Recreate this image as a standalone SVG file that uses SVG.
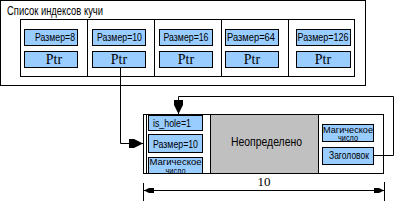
<svg xmlns="http://www.w3.org/2000/svg" width="395" height="201" viewBox="0 0 395 201">
<style>
.b{fill:#99ccff;stroke:#000;stroke-width:1}
.w{fill:#fff;stroke:#000;stroke-width:1}
.g{fill:#c0c0c0;stroke:#000;stroke-width:1}
.l{fill:none;stroke:#000;stroke-width:1}
.s{font-family:"Liberation Sans",Arial,sans-serif;fill:#000}
.t{font-family:"Liberation Serif","Times New Roman",serif;fill:#000}
</style>
<defs>
<marker id="arr" viewBox="-14 -5 14 10" refX="0" refY="0" markerWidth="14" markerHeight="10" markerUnits="userSpaceOnUse" orient="auto">
<path d="M0,0 L-9,-4.5 L-14,-4.5 L-14,4.5 L-9,4.5 Z" fill="#000"/>
</marker>
<marker id="dim" viewBox="-10 -3 10 6" refX="0" refY="0" markerWidth="10" markerHeight="6" markerUnits="userSpaceOnUse" orient="auto-start-reverse">
<path d="M0,0 L-5,-2.5 L-10,-2.5 L-10,2.5 L-5,2.5 Z" fill="#000"/>
</marker>
<clipPath id="c1"><rect x="148" y="157" width="55" height="16"/></clipPath>
</defs>

<g id="heap-list">
<rect class="w" x="0.5" y="0.5" width="365" height="85"/>
<text class="s" x="7" y="15" font-size="12" textLength="96" lengthAdjust="spacingAndGlyphs">Список индексов кучи</text>
<rect class="w" x="20.5" y="19.5" width="334" height="57"/>
<path class="l" d="M87.5,19.5V76.5M154.5,19.5V76.5M221.5,19.5V76.5M288.5,19.5V76.5"/>
</g>

<g id="cell-8">
<rect class="b" x="24.5" y="29.5" width="53" height="16"/>
<text class="s" x="55" y="41" font-size="11" text-anchor="middle" textLength="40" lengthAdjust="spacingAndGlyphs">Размер=8</text>
<rect class="b" x="24.5" y="51.5" width="53" height="16"/>
<text class="t" x="54" y="64" font-size="14" text-anchor="middle">Ptr</text>
</g>
<g id="cell-10">
<rect class="b" x="92.5" y="29.5" width="53" height="16"/>
<text class="s" x="119.5" y="41" font-size="11" text-anchor="middle" textLength="45" lengthAdjust="spacingAndGlyphs">Размер=10</text>
<rect class="b" x="92.5" y="51.5" width="53" height="16"/>
<text class="t" x="119" y="64" font-size="14" text-anchor="middle">Ptr</text>
</g>
<g id="cell-16">
<rect class="b" x="159.5" y="29.5" width="53" height="16"/>
<text class="s" x="186" y="41" font-size="11" text-anchor="middle" textLength="45" lengthAdjust="spacingAndGlyphs">Размер=16</text>
<rect class="b" x="159.5" y="51.5" width="53" height="16"/>
<text class="t" x="186" y="64" font-size="14" text-anchor="middle">Ptr</text>
</g>
<g id="cell-64">
<rect class="b" x="225.5" y="29.5" width="53" height="16"/>
<text class="s" x="251" y="41" font-size="11" text-anchor="middle" textLength="48" lengthAdjust="spacingAndGlyphs">Размер=64</text>
<rect class="b" x="225.5" y="51.5" width="53" height="16"/>
<text class="t" x="252" y="64" font-size="14" text-anchor="middle">Ptr</text>
</g>
<g id="cell-126">
<rect class="b" x="296.5" y="29.5" width="54" height="16"/>
<text class="s" x="323" y="41" font-size="11" text-anchor="middle" textLength="51" lengthAdjust="spacingAndGlyphs">Размер=126</text>
<rect class="b" x="296.5" y="51.5" width="54" height="16"/>
<text class="t" x="323" y="64" font-size="14" text-anchor="middle">Ptr</text>
</g>

<g id="block">
<rect class="w" x="143.5" y="114.5" width="240" height="59"/>
<path class="l" d="M146.5,114.5V173.5"/>
<rect class="g" x="210.5" y="114.5" width="108" height="59"/>
<text class="s" x="266.5" y="146" font-size="12" text-anchor="middle" textLength="71" lengthAdjust="spacingAndGlyphs">Неопределено</text>
</g>
<g id="is-hole">
<rect class="b" x="148.5" y="115.5" width="54" height="15"/>
<text class="s" x="153" y="127" font-size="11" textLength="38" lengthAdjust="spacingAndGlyphs">is_hole=1</text>
</g>
<g id="size-10">
<rect class="b" x="148.5" y="134.5" width="54" height="18"/>
<text class="s" x="153" y="148" font-size="11" textLength="45" lengthAdjust="spacingAndGlyphs">Размер=10</text>
</g>
<g id="magic-1">
<rect class="b" x="148.5" y="157.5" width="54" height="16"/>
<g clip-path="url(#c1)">
<text class="s" x="175.5" y="165" font-size="9.5" text-anchor="middle" textLength="52" lengthAdjust="spacingAndGlyphs">Магическое</text>
<text class="s" x="175.5" y="173.5" font-size="9.5" text-anchor="middle" textLength="20" lengthAdjust="spacingAndGlyphs">число</text>
</g>
</g>
<g id="magic-2">
<rect class="b" x="322.5" y="124.5" width="51" height="17"/>
<text class="s" x="348" y="132.5" font-size="9.5" text-anchor="middle" textLength="50" lengthAdjust="spacingAndGlyphs">Магическое</text>
<text class="s" x="348" y="140.5" font-size="9.5" text-anchor="middle" textLength="20" lengthAdjust="spacingAndGlyphs">число</text>
</g>
<g id="header">
<rect class="b" x="322.5" y="147.5" width="51" height="17"/>
<text class="s" x="349" y="159" font-size="11" text-anchor="middle" textLength="40" lengthAdjust="spacingAndGlyphs">Заголовок</text>
</g>

<g id="connectors">
<path class="l" d="M120.5,67.5V143.5H143" marker-end="url(#arr)"/>
<path class="l" d="M373.5,155.5H393.5V96.5H178.5V114" marker-end="url(#arr)"/>
<path class="l" d="M144,190.5H384" marker-start="url(#dim)" marker-end="url(#dim)"/>
<path class="l" d="M143.5,183V201M384.5,182V201"/>
</g>
<g id="dim-label">
<text class="t" x="264" y="186" font-size="13" text-anchor="middle">10</text>
</g>
</svg>
